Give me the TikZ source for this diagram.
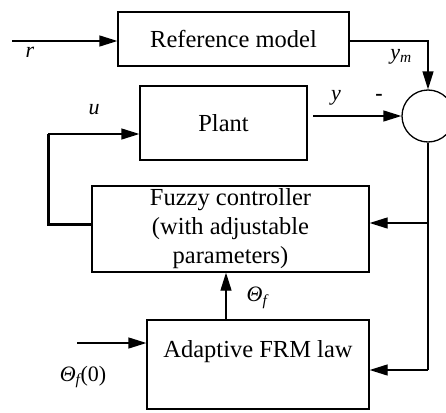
\documentclass[tikz,border=0pt]{standalone}
\usepackage{fontspec}
\setmainfont{Liberation Serif}
\usetikzlibrary{arrows.meta}
\begin{document}
\begin{tikzpicture}[x=1pt,y=-1pt,
  blk/.style={draw,line width=1.3pt,rectangle,inner sep=0pt},
  txt/.style={font=\fontsize{24.5}{29}\selectfont},
  lbl/.style={font=\fontsize{22}{26}\selectfont\itshape,inner sep=0pt},
  con/.style={line width=1.3pt},
  arr/.style={con,-{Triangle[length=18pt,width=11pt]}},
]
\fill[white] (0,0) rectangle (446,412);
\useasboundingbox (0,0) rectangle (446,412);
\node[blk,txt,minimum width=231pt,minimum height=54pt] (ref) at (233.5,39) {Reference model};
\node[blk,txt,minimum width=167pt,minimum height=74pt] (plant) at (223.5,123) {Plant};
\node[blk,txt,align=center,minimum width=277pt,minimum height=86pt] (fuzzy) at (230.5,229) {Fuzzy controller\\(with adjustable\\parameters)};
\node[blk,minimum width=222pt,minimum height=89pt] (adapt) at (258,364.5) {};
\node[txt,inner sep=0pt] (adaptlbl) at (258,352) {Adaptive FRM law};
\node[draw,circle,line width=1.3pt,minimum size=52pt,inner sep=0pt] (sum) at (428,116) {};

\coordinate (rin) at (12,41);
\draw[arr] (rin) -- (ref.west |- rin);
\draw[arr] (ref.east |- rin) -| (sum.north);
\coordinate (yout) at (313,116);
\draw[arr] (yout) -- (sum.west);
\coordinate (uc) at (48,134);
\coordinate (fl) at (92,224);
\draw[line width=3pt] (fuzzy.west |- fl) -| (uc);
\draw[arr] (uc) -- (plant.west |- uc);
\coordinate (fb) at (428,370);
\coordinate (fc) at (428,223);
\draw[con] (sum.south) -- (sum.south |- fb);
\draw[arr] (sum.south |- fb) -- (adapt.east |- fb);
\draw[arr] (fc) -- (fuzzy.east |- fc);
\coordinate (th) at (226,0);
\draw[arr] (adapt.north -| th) -- (fuzzy.south -| th);
\coordinate (t0) at (77,343);
\draw[arr] (t0) -- (adapt.west |- t0);

\node[lbl] (rlbl) at (30,52) {r};
\node[lbl] (ymlbl) at (401,57) {y\textsubscript{m}};
\node[lbl] (ylbl) at (336,98) {y};
\node[font=\bfseries\fontsize{22}{26}\selectfont,inner sep=0pt] (minus) at (379,97) {-};
\node[lbl] (ulbl) at (94,110) {u};
\node[lbl] (thlbl) at (257,298) {Θ\textsubscript{f}};
\node[lbl] (th0lbl) at (83,377) {Θ\textsubscript{f}\textup{(0)}};
\end{tikzpicture}
\end{document}
